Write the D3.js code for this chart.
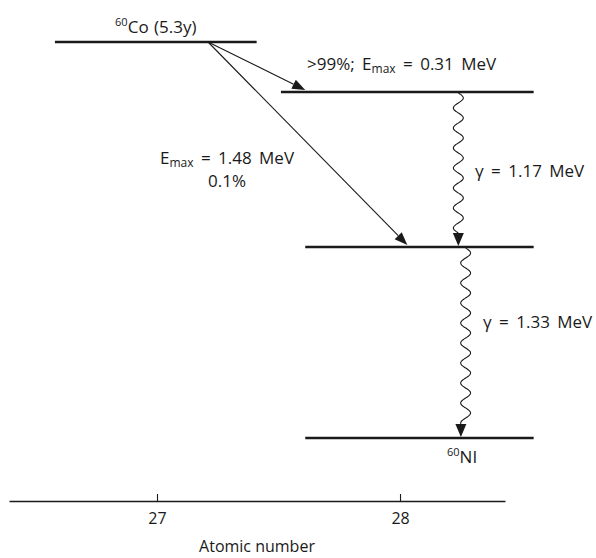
<!DOCTYPE html>
<html>
<head>
<meta charset="utf-8">
<script src="https://cdn.jsdelivr.net/npm/d3@7"></script>
<style>
  html, body { margin: 0; padding: 0; background: #fff; }
  svg { display: block; }
  text { font-family: "Open Sans", "Noto Sans", sans-serif; fill: #1a1a1a; }
</style>
</head>
<body>
<svg id="chart" width="596" height="558"></svg>
<script>
// ---- Data ----
const tickValues = [27, 28];
const tickLabels = ["27", "28"];
const axisTitle = "Atomic number";

// Energy levels (MeV) and their horizontal extents (atomic number units)
const levelNames  = ["Co-60", "Ni-60 (2.505)", "Ni-60 (1.332)", "Ni-60 (0)"];
const levelEnergy = [2.824, 2.505, 1.332, 0];
const levelStart  = [26.58, 27.51, 27.61, 27.61];
const levelEnd    = [27.41, 28.55, 28.55, 28.55];

// Beta transitions
const betaFromX  = [27.21, 27.21];
const betaFromE  = [2.824, 2.824];
const betaToX    = [27.61, 28.03];
const betaToE    = [2.505, 1.332];

// Gamma transitions
const gammaX     = [28.24, 28.27];
const gammaFromE = [2.505, 1.332];
const gammaToE   = [1.332, 0];

// ---- Scales ----
const svg = d3.select("#chart");
const x = d3.scaleLinear().domain([26.391, 28.432]).range([9, 505]);
const y = d3.scaleLinear().domain([0, 1.332, 2.505, 2.824]).range([438, 247, 92, 42]);

const ink = "#1a1a1a";

// ---- Levels ----
svg.append("g").selectAll("line")
  .data(levelEnergy)
  .join("line")
  .attr("x1", (d, i) => x(levelStart[i]))
  .attr("x2", (d, i) => x(levelEnd[i]))
  .attr("y1", d => y(d))
  .attr("y2", d => y(d))
  .attr("stroke", ink)
  .attr("stroke-width", 2.6);

// arrowhead helper
function arrowHead(g, tx, ty, angle, len, half) {
  const bx = tx - len * Math.cos(angle), by = ty - len * Math.sin(angle);
  const px = -Math.sin(angle) * half, py = Math.cos(angle) * half;
  g.append("path")
    .attr("d", `M${tx},${ty}L${bx + px},${by + py}L${bx - px},${by - py}Z`)
    .attr("fill", ink);
  return [bx, by];
}

// ---- Beta arrows ----
const betaG = svg.append("g");
betaFromX.forEach((fx, i) => {
  const x1 = x(fx), y1 = y(betaFromE[i]);
  const x2 = x(betaToX[i]), y2 = y(betaToE[i]) - 2;
  const ang = Math.atan2(y2 - y1, x2 - x1);
  const [bx, by] = arrowHead(betaG, x2, y2, ang, 13, 5);
  betaG.append("line")
    .attr("x1", x1).attr("y1", y1).attr("x2", bx).attr("y2", by)
    .attr("stroke", ink).attr("stroke-width", 1.1);
});

// ---- Gamma wavy arrows ----
const gammaG = svg.append("g");
gammaX.forEach((gx, i) => {
  const cx = x(gx);
  const y1 = y(gammaFromE[i]) + 1;
  const y2 = y(gammaToE[i]) - 1;
  const headLen = 13;
  const yEnd = y2 - headLen;
  const period = 20, amp = 5;
  const pts = d3.range(0, 1.0001, 0.005).map(t => {
    const yy = y1 + t * (yEnd - y1);
    return [cx + amp * Math.sin(2 * Math.PI * (yy - y1) / period), yy];
  });
  gammaG.append("path")
    .attr("d", d3.line().curve(d3.curveBasis)(pts))
    .attr("fill", "none").attr("stroke", ink).attr("stroke-width", 1.1);
  arrowHead(gammaG, pts[pts.length - 1][0], y2, Math.PI / 2, headLen, 5.5);
});

// ---- Labels ----
const fs = 17;
function label(xp, yp, anchor, parts, ws) {
  const t = svg.append("text").attr("x", xp).attr("y", yp)
    .attr("text-anchor", anchor).attr("font-size", fs)
    .attr("word-spacing", ws || 0);
  parts.forEach(p => {
    const ts = t.append("tspan").text(p.t);
    if (p.sup) ts.attr("font-size", 11).attr("dy", -7);
    if (p.sub) ts.attr("font-size", 12).attr("dy", 3);
    if (p.back) ts.attr("dy", p.back);
  });
  return t;
}

label(x((levelStart[0] + levelEnd[0]) / 2), 33, "middle",
  [{t: "60", sup: true}, {t: "Co (5.3y)", back: 7}], 1);

label(307, 70, "start",
  [{t: ">99%; E"}, {t: "max", sub: true}, {t: " = 0.31 MeV", back: -3}], 3);

label(227, 164, "middle",
  [{t: "E"}, {t: "max", sub: true}, {t: " = 1.48 MeV", back: -3}], 3);
label(227, 187, "middle", [{t: "0.1%"}]);

label(475, 177, "start", [{t: "γ = 1.17 MeV"}], 3);
label(483, 328, "start", [{t: "γ = 1.33 MeV"}], 3);

label(447, 463, "start", [{t: "60", sup: true}, {t: "NI", back: 7}]);

// ---- Axis ----
const axis = d3.axisBottom(x)
  .tickValues(tickValues)
  .tickFormat((d, i) => tickLabels[i])
  .tickSizeInner(-7)
  .tickSizeOuter(0);

const ag = svg.append("g").attr("transform", "translate(0,501)").call(axis);
ag.select(".domain").attr("stroke", ink).attr("stroke-width", 1.3);
ag.selectAll(".tick line").attr("stroke", ink).attr("stroke-width", 1.1);
ag.selectAll(".tick text")
  .attr("y", 23).attr("dy", null)
  .attr("font-size", 16)
  .attr("font-family", '"Open Sans", "Noto Sans", sans-serif')
  .attr("fill", ink);

svg.append("text")
  .attr("x", (x.range()[0] + x.range()[1]) / 2)
  .attr("y", 552)
  .attr("text-anchor", "middle")
  .attr("font-size", 16)
  .text(axisTitle);
</script>
</body>
</html>
